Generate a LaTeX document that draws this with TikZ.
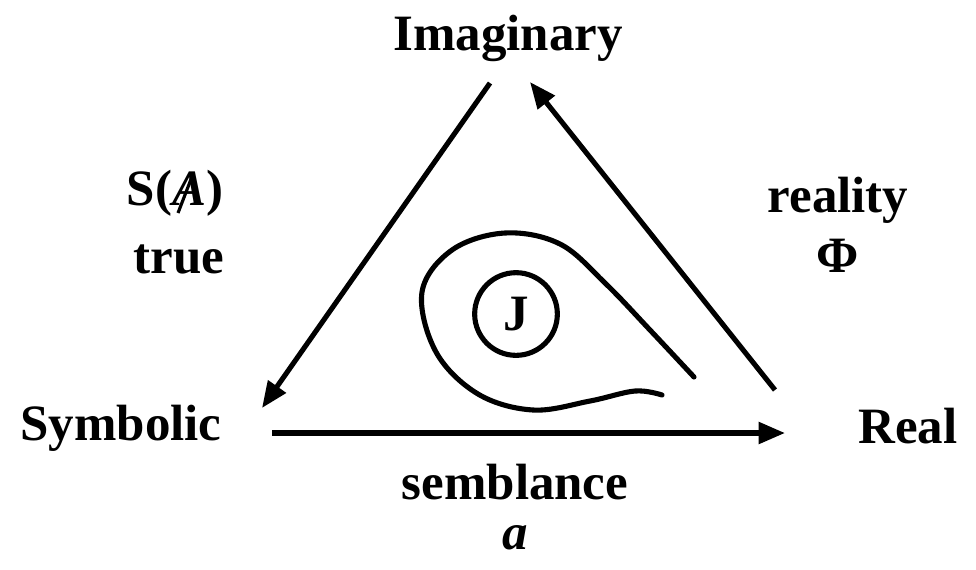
\documentclass[tikz,border=0pt]{standalone}
\usepackage{fontspec}
\setmainfont{Liberation Serif}
\usetikzlibrary{arrows.meta}
\begin{document}
\begin{tikzpicture}[x=0.02cm,y=-0.02cm,
  lbl/.style={font=\fontsize{29}{34}\selectfont\bfseries, inner sep=0pt},
  arr/.style={line width=2.9pt, -{Triangle[length=15pt,width=12pt]}},
  crv/.style={line width=2.9pt, line cap=round}]
\useasboundingbox (0,0) rectangle (976,569);
% labels
\node[lbl] (imag) at (508,38) {Imaginary};
\node[lbl] (symb) at (121,428) {Symbolic};
\node[lbl] (real) at (908,426) {Real};
\node[lbl] (sa) at (175,193) {S(\textit{A})};
\coordinate (sl1) at (178,213);
\coordinate (sl2) at (193,174);
\draw[line width=1.8pt] (sl1) -- (sl2);
\node[lbl] (true) at (179,259) {true};
\node[lbl] (reality) at (838,200) {reality};
\node[lbl] (phi) at (838,256) {Φ};
\node[lbl] (semb) at (515,482) {semblance};
\node[lbl] (a) at (515,538) {\textit{a}};
% arrow ends
\coordinate (i1) at (490,83);
\coordinate (s1) at (262,408);
\coordinate (r1) at (775,390);
\coordinate (i2) at (530,82);
\coordinate (s2) at (272,433);
\coordinate (r2) at (785,433);
\draw[arr] (i1) -- (s1);
\draw[arr] (r1) -- (i2);
\draw[arr] (s2) -- (r2);
% J
\node[draw, circle, line width=2.9pt, minimum size=83pt*0.567, inner sep=0pt,
  font=\fontsize{29}{34}\selectfont\bfseries] (J) at (516,314) {J};
% loop
\draw[crv] plot[smooth, tension=0.6] coordinates {(694,377) (650,330) (605,283) (560,244) (505,233) (452,250) (422,292) (436,352) (478,394) (533,410) (590,401) (635,391) (662,395)};
\end{tikzpicture}
\end{document}
